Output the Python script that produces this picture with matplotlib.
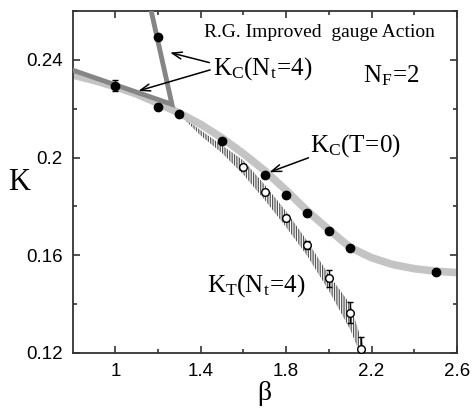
import numpy as np
import matplotlib
matplotlib.use('Agg')
import matplotlib.pyplot as plt

# K_c(T=0): filled points
kc_beta = [1.0, 1.2, 1.3, 1.5, 1.7, 1.8, 1.9, 2.0, 2.1, 2.5]
kc_val = [0.2295, 0.2208, 0.2180, 0.2068, 0.1930, 0.1845, 0.1775, 0.1700, 0.1628, 0.1533]
kc_err = [0.0024, 0.0010, 0.0, 0.0, 0.0, 0.0, 0.0, 0.0, 0.0, 0.0]
# extra K_c(Nt=4) point above the kink
kc4_beta = [1.2]
kc4_val = [0.2495]

# K_T(Nt=4): open points
kt_beta = [1.6, 1.7, 1.8, 1.9, 2.0, 2.1, 2.15]
kt_val = [0.1960, 0.1860, 0.1753, 0.1641, 0.1505, 0.1365, 0.1215]
kt_err = [0.0010, 0.0008, 0.0013, 0.0016, 0.0033, 0.0043, 0.0050]

# light gray fit of K_c(T=0)
fit_beta = [0.8, 0.9, 1.0, 1.1, 1.2, 1.3, 1.4, 1.5, 1.6, 1.7, 1.8, 1.9, 2.0, 2.1, 2.2, 2.3, 2.4, 2.5, 2.6]
fit_val = [0.2338, 0.2316, 0.2290, 0.2260, 0.2222, 0.2182, 0.2136, 0.2080, 0.2016, 0.1946,
           0.1866, 0.1781, 0.1705, 0.1632, 0.1590, 0.1562, 0.1545, 0.1535, 0.1529]

# dark gray K_c(Nt=4) lines (kink)
kink_beta = [0.8, 1.265, 1.168]
kink_val = [0.2358, 0.2218, 0.2600]

# hatched K_T(Nt=4) band
band_beta = [1.33, 1.4, 1.5, 1.6, 1.7, 1.8, 1.9, 2.0, 2.1, 2.15, 2.2]
band_hi = [0.2155, 0.2112, 0.2050, 0.1988, 0.1888, 0.1780, 0.1657, 0.1520, 0.1400, 0.1261, 0.1130]
band_lo = [0.2150, 0.2090, 0.2018, 0.1930, 0.1826, 0.1715, 0.1596, 0.1455, 0.1296, 0.1190, 0.1050]

serif = 'Liberation Serif'
plt.rcParams['font.family'] = ['Liberation Sans', 'DejaVu Sans']
plt.rcParams['mathtext.fontset'] = 'custom'
plt.rcParams['mathtext.rm'] = serif
plt.rcParams['mathtext.it'] = serif + ':italic'
plt.rcParams['hatch.linewidth'] = 0.9

fig = plt.figure(figsize=(4.72, 4.09), dpi=100)
ax = fig.add_axes([0.154, 0.137, 0.814, 0.836])

ax.fill_between(band_beta, band_lo, band_hi, facecolor='none', edgecolor='#555555',
                hatch='|' * 7, linewidth=0, zorder=1)
ax.plot(fit_beta, fit_val, color='#c4c4c4', lw=5.5, solid_capstyle='butt', zorder=2)
ax.plot(kink_beta, kink_val, color='#858585', lw=3.5, solid_joinstyle='miter', zorder=3)

ax.errorbar(kc_beta, kc_val, yerr=kc_err, fmt='o', color='black', ms=6, capsize=2.5,
            elinewidth=1, zorder=5)
ax.plot(kc4_beta, kc4_val, 'o', color='black', ms=6, zorder=5)
ax.errorbar(kt_beta, kt_val, yerr=kt_err, fmt='o', mfc='white', mec='black', mew=1,
            ms=5.5, color='black', capsize=2.5, elinewidth=1, zorder=5)

ax.set_xlim(0.8, 2.6)
ax.set_ylim(0.12, 0.26)
ax.set_xticks([1.0, 1.4, 1.8, 2.2, 2.6])
ax.set_xticklabels(['1', '1.4', '1.8', '2.2', '2.6'])
ax.set_xticks([1.2, 1.6, 2.0, 2.4], minor=True)
ax.set_yticks([0.12, 0.16, 0.2, 0.24])
ax.set_yticklabels(['0.12', '0.16', '0.2', '0.24'])
ax.set_yticks([0.14, 0.18, 0.22, 0.26], minor=True)
ax.tick_params(which='both', direction='in', top=True, right=True, color='#333333',
               labelsize=13.5, width=1.2)
ax.tick_params(which='major', length=5, pad=7)
ax.tick_params(which='minor', length=3)
for s in ax.spines.values():
    s.set_color('#333333')
    s.set_linewidth(1.3)

ax.set_xlabel('β', family=serif, fontsize=20, labelpad=1)
ax.set_ylabel('K', family=serif, fontsize=22, rotation=0)
ax.yaxis.set_label_coords(-0.139, 0.455)

ax.text(1.4156, 0.2495, 'R.G. Improved  gauge Action', family=serif, fontsize=14)
ax.text(1.458, 0.2339, r'$\mathrm{K_C(N_t\!=\!4)}$', fontsize=18)
ax.text(2.162, 0.2307, r'$\mathrm{N_F\!=\!2}$', fontsize=18)
ax.text(1.9125, 0.2024, r'$\mathrm{K_C(T\!=\!0)}$', fontsize=18)
ax.text(1.431, 0.1450, r'$\mathrm{K_T(N_t\!=\!4)}$', fontsize=18)

arr = dict(arrowstyle='->,head_length=0.7,head_width=0.25', color='black', lw=1.1,
           shrinkA=0, shrinkB=0)
ax.annotate('', xy=(1.256, 0.2430), xytext=(1.440, 0.2389), arrowprops=arr)
ax.annotate('', xy=(1.1075, 0.2273), xytext=(1.444, 0.2359), arrowprops=arr)
ax.annotate('', xy=(1.7217, 0.1940), xytext=(1.9046, 0.1999), arrowprops=arr)

fig.savefig('out.png', dpi=100)
